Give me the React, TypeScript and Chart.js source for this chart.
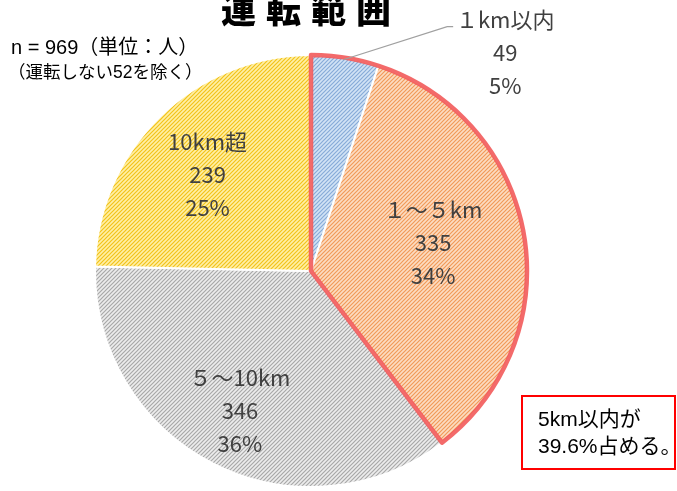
import React, { useEffect, useRef } from "react";
import { Chart, registerables } from "chart.js";

Chart.register(...registerables);

const categories = ["１km以内", "１～５km", "５～10km", "10km超"];
const counts = [49, 335, 346, 239];
const percentLabels = ["5%", "34%", "36%", "25%"];
const titleText = "運転範囲";
const noteLines = ["n = 969（単位：人）", "（運転しない52を除く）"];
const boxLines = ["5km以内が", "39.6%占める。"];

const sliceBg = ["#d2e3f5", "#fcdcc2", "#ededed", "#fff0a6"];
const sliceFg = ["#86abd8", "#f19a58", "#a8a8a8", "#f2c21a"];

function makePattern(ctx: CanvasRenderingContext2D, bg: string, fg: string) {
  const c = document.createElement("canvas");
  c.width = 4;
  c.height = 4;
  const x = c.getContext("2d")!;
  x.fillStyle = bg;
  x.fillRect(0, 0, 4, 4);
  x.strokeStyle = fg;
  x.lineWidth = 1.2;
  x.beginPath();
  x.moveTo(-1, 5);
  x.lineTo(5, -1);
  x.moveTo(-1, 1);
  x.lineTo(1, -1);
  x.moveTo(3, 5);
  x.lineTo(5, 3);
  x.stroke();
  return ctx.createPattern(c, "repeat")!;
}

const FONT = "'Noto Sans CJK JP', 'Noto Sans', sans-serif";
const MIXFONT = "'Liberation Sans', 'Noto Sans CJK JP', sans-serif";

const labelPlugin = {
  id: "pieLabels",
  afterDatasetsDraw(chart: any) {
    const ctx: CanvasRenderingContext2D = chart.ctx;
    const meta = chart.getDatasetMeta(0);
    const arcs = meta.data;
    if (!arcs.length) return;
    const a0 = arcs[0];
    const cx = a0.x;
    const cy = a0.y;
    const R = a0.outerRadius;

    // red outline around first two slices (within 5km)
    const start = arcs[0].startAngle;
    const end = arcs[1].endAngle;
    ctx.save();
    ctx.strokeStyle = "rgba(242,90,90,0.9)";
    ctx.lineWidth = 4.5;
    ctx.lineJoin = "round";
    ctx.beginPath();
    ctx.moveTo(cx, cy);
    ctx.lineTo(cx + R * Math.cos(start), cy + R * Math.sin(start));
    ctx.arc(cx, cy, R, start, end);
    ctx.closePath();
    ctx.stroke();
    ctx.restore();

    // labels
    const place: Array<{ f: number; d: number }> = [
      { f: 1, d: 0 },
      { f: 0.58, d: -3.4 },
      { f: 0.726, d: 0 },
      { f: 0.655, d: -2.6 },
    ];
    ctx.save();
    ctx.fillStyle = "#404040";
    ctx.font = `22px ${FONT}`;
    ctx.textAlign = "center";
    ctx.textBaseline = "middle";
    const lh = 33;
    arcs.forEach((arc: any, i: number) => {
      const mid = (arc.startAngle + arc.endAngle) / 2;
      const lines = [categories[i], String(counts[i]), percentLabels[i]];
      let lx: number, ly: number;
      if (i === 0) {
        const ex = cx + R * Math.cos(mid);
        const ey = cy + R * Math.sin(mid);
        ctx.save();
        ctx.strokeStyle = "#a0a0a0";
        ctx.lineWidth = 1.2;
        ctx.beginPath();
        ctx.moveTo(ex - 2, ey + 2);
        ctx.lineTo(ex + 102, ey - 31);
        ctx.lineTo(ex + 108, ey - 31);
        ctx.stroke();
        ctx.restore();
        lx = ex + 160;
        ly = ey - 5;
      } else {
        const ang = mid + (place[i].d * Math.PI) / 180;
        lx = cx + R * place[i].f * Math.cos(ang);
        ly = cy + R * place[i].f * Math.sin(ang);
      }
      lines.forEach((t, k) => {
        ctx.fillText(t, lx, ly + (k - 1) * lh);
      });
    });
    ctx.restore();
  },
};

export default function App() {
  const ref = useRef<HTMLCanvasElement | null>(null);
  useEffect(() => {
    const canvas = ref.current!;
    const ctx = canvas.getContext("2d")!;
    const patterns = sliceBg.map((b, i) => makePattern(ctx, b, sliceFg[i]));
    const chart = new Chart(canvas, {
      type: "pie",
      data: {
        labels: categories,
        datasets: [
          {
            data: counts,
            backgroundColor: patterns,
            borderColor: "#ffffff",
            borderWidth: 2,
            hoverOffset: 0,
          },
        ],
      },
      options: {
        animation: false,
        responsive: false,
        events: [],
        layout: { padding: { left: 94, right: 149, top: 54, bottom: 3 } },
        plugins: {
          legend: { display: false },
          tooltip: { enabled: false },
          title: { display: false },
        },
      },
      plugins: [labelPlugin],
    });
    return () => chart.destroy();
  }, []);

  return (
    <div
      style={{
        position: "fixed",
        left: 0,
        top: 0,
        width: 677,
        height: 491,
        background: "#ffffff",
        overflow: "hidden",
      }}
    >
      <canvas
        ref={ref}
        width={677}
        height={491}
        style={{ position: "absolute", left: 0, top: 0, width: 677, height: 491 }}
      />
      <div
        style={{
          position: "absolute",
          left: 0,
          width: 622,
          top: -9,
          textAlign: "center",
          fontFamily: FONT,
          fontWeight: 900,
          fontSize: 35,
          lineHeight: "34px",
          letterSpacing: 10,
          color: "#000",
          whiteSpace: "nowrap",
        }}
      >
        {titleText}
      </div>
      <div
        style={{
          position: "absolute",
          left: 11,
          top: 35,
          fontFamily: MIXFONT,
          fontSize: 20,
          lineHeight: "25px",
          color: "#000",
          whiteSpace: "nowrap",
        }}
      >
        <div>{noteLines[0]}</div>
        <div style={{ fontSize: 17.5, marginLeft: -3 }}>{noteLines[1]}</div>
      </div>
      <div
        style={{
          position: "absolute",
          left: 521,
          top: 395,
          width: 155,
          height: 75,
          boxSizing: "border-box",
          border: "2px solid #ff0000",
          background: "#fff",
          fontFamily: MIXFONT,
          fontSize: 21,
          lineHeight: "27px",
          color: "#000",
          paddingLeft: 15,
          paddingTop: 8,
          whiteSpace: "nowrap",
        }}
      >
        <div>{boxLines[0]}</div>
        <div>{boxLines[1]}</div>
      </div>
    </div>
  );
}
